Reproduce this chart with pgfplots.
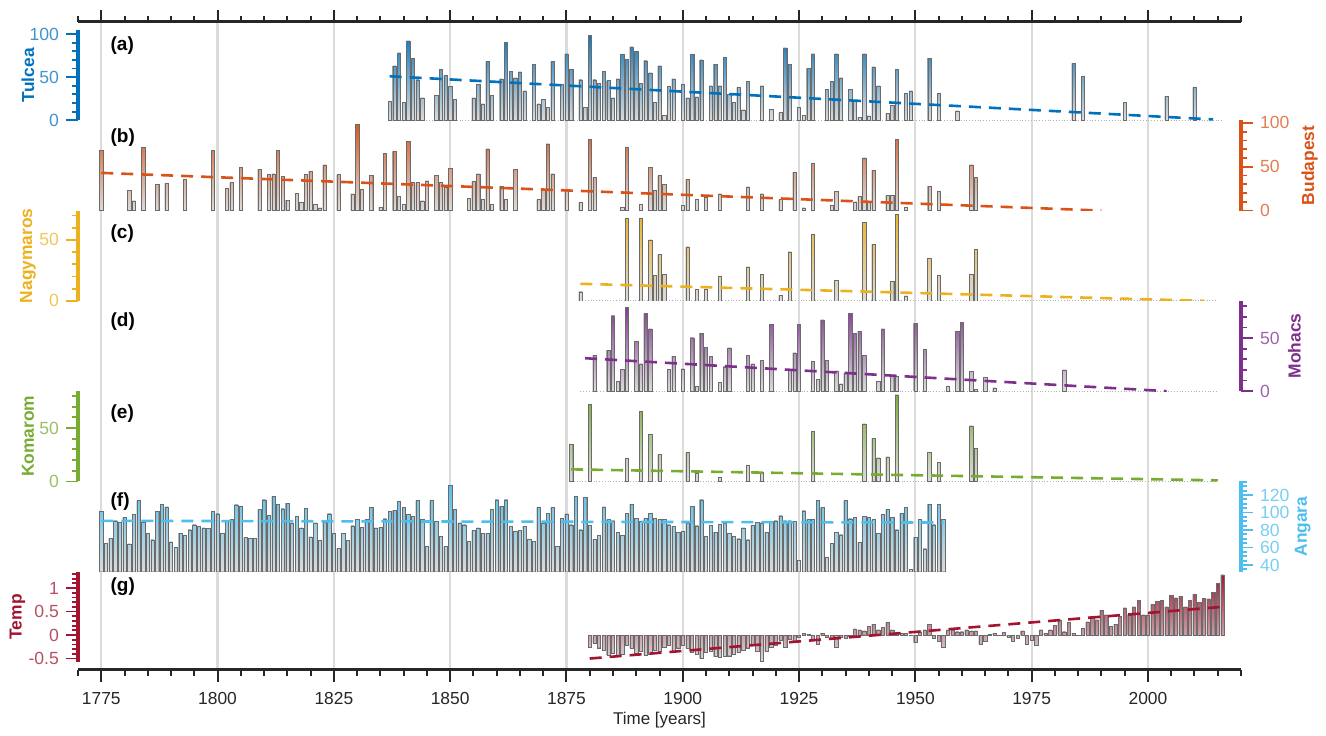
\documentclass[border=0pt]{standalone}
\usepackage{fontspec}
\setmainfont{Liberation Sans}
\usepackage{pgfplots}
\pgfplotsset{compat=1.18}
\usetikzlibrary{shadings}
\definecolor{ctul}{HTML}{0072BD}
\definecolor{cbud}{HTML}{D95319}
\definecolor{cnag}{HTML}{EDB120}
\definecolor{cmoh}{HTML}{7E2F8E}
\definecolor{ckom}{HTML}{77AC30}
\definecolor{cang}{HTML}{4DBEEE}
\definecolor{ctmp}{HTML}{A2142F}
\definecolor{cfr}{HTML}{262626}

\pgfplotstableread{
year val
1837 22
1838 63
1839 78
1840 21
1841 92
1842 72
1843 47
1844 26
1847 29
1848 59
1849 52
1850 39
1851 24
1855 26
1856 42
1857 19
1858 68
1859 29
1861 48
1862 90
1863 57
1864 49
1865 56
1866 34
1868 65
1869 19
1870 24
1871 15
1872 68
1874 42
1875 77
1876 59
1878 47
1879 15
1880 98
1881 47
1882 43
1883 57
1884 46
1885 26
1886 48
1887 76
1888 71
1889 85
1890 80
1891 43
1892 69
1893 55
1894 21
1895 63
1896 6
1897 39
1898 48
1900 42
1901 26
1902 76
1903 27
1904 70
1906 40
1907 65
1908 40
1909 73
1910 30
1911 21
1912 38
1913 12
1914 45
1917 40
1919 13
1921 9
1922 84
1923 65
1925 15
1926 6
1927 60
1928 77
1931 36
1932 45
1933 77
1934 49
1936 36
1937 23
1938 3
1939 77
1940 5
1941 62
1942 40
1944 8
1945 17
1946 59
1948 31
1949 34
1953 72
1955 31
1959 11
1984 66
1986 51
1995 21
2004 28
2010 38
}\tulcea

\pgfplotstableread{
year val
1775 68.5
1781 23
1782 11
1784 72
1787 30
1789 31
1793 36
1799 68.5
1802 25
1803 32
1805 49.6
1809 47
1811 41
1812 42
1813 68.5
1814 39
1815 12
1817 20
1818 9
1819 41
1820 45
1821 7
1822 3
1823 52
1826 41
1829 19
1830 98
1831 24
1833 40
1835 4
1836 65
1838 67.5
1839 16
1840 7
1841 78.7
1842 32
1843 32
1844 11
1845 34
1847 40
1848 32
1849 27
1850 48
1854 14
1855 33
1856 42
1857 12.5
1858 70.5
1859 7
1861 28
1862 12.5
1864 47
1869 12.5
1870 24
1871 76
1872 42
1875 24
1878 9.5
1880 81.5
1881 38
1887 4
1888 72
1891 7
1893 49
1894 23
1895 40
1896 30
1900 5.7
1901 36
1903 12.5
1905 15.5
1908 19
1914 27
1917 19
1921 12.5
1924 44
1926 3
1928 54
1932 6
1933 22
1937 10
1938 16
1939 60
1940 9
1941 46
1944 17
1945 17
1946 81.5
1948 4
1953 28
1955 22
1962 52
1963 38
}\budapest

\pgfplotstableread{
year val
1878 7.5
1888 67.5
1891 67.5
1893 50
1894 20.8
1895 38
1896 22
1901 44.4
1903 9.7
1905 9.7
1908 20
1914 27.8
1917 22
1921 4.7
1923 40.3
1928 54.7
1933 16.7
1939 64.7
1941 46.4
1945 15.8
1946 70.8
1948 4
1953 34.7
1955 20.8
1962 22
1963 42.5
}\nagymaros

\pgfplotstableread{
year val
1881 34
1884 38.6
1885 71
1886 9
1887 20.7
1888 78.7
1890 46.9
1891 25.6
1892 73
1893 58.6
1897 20.7
1898 33
1900 21
1902 50.3
1903 4.6
1904 54.6
1905 41
1906 33
1908 8.3
1909 23
1910 40.7
1914 34
1915 25.6
1917 29.3
1919 62.6
1923 20
1924 36
1925 62.6
1928 27.8
1929 10.8
1930 67
1931 28.7
1933 19.1
1934 6.8
1935 17
1936 73
1937 54.6
1938 56.4
1939 34
1942 9
1943 58.6
1945 13.9
1946 13.9
1950 63.9
1952 39.2
1957 4.6
1959 56.4
1960 64.8
1962 18.5
1963 2
1965 13
1967 3
1982 20
}\mohacs

\pgfplotstableread{
year val
1876 34.6
1880 72
1888 21.4
1891 65.4
1893 44.3
1895 25.2
1901 27
1903 7.5
1908 3.5
1914 15
1917 8.8
1928 47
1939 53.8
1941 40.3
1942 22
1944 22.9
1946 81
1953 27
1955 17.6
1962 52
1963 30.8
}\komarom

\pgfplotstableread{
year val
1775 101.3
1776 65.1
1777 70.8
1778 90.6
1779 88.7
1780 94.4
1781 64.0
1782 97.5
1783 113.5
1784 89.1
1785 76.5
1786 68.9
1787 101.3
1788 109.7
1789 106.3
1790 66.3
1791 60.2
1792 76.5
1793 73.9
1794 80.3
1795 86.0
1796 84.2
1797 82.3
1798 81.5
1799 101.3
1800 98.6
1801 76.5
1802 89.9
1803 91.8
1804 108.9
1805 107.0
1806 71.6
1807 70.8
1808 70.8
1809 103.2
1810 114.6
1811 96.7
1812 118.4
1813 109.7
1814 104.3
1815 110.8
1816 88.0
1817 95.6
1818 82.3
1819 105.1
1820 72.0
1821 88.0
1822 68.2
1823 88.7
1824 98.6
1825 76.5
1826 59.4
1827 76.5
1828 68.2
1829 84.9
1830 91.8
1831 83.0
1832 91.8
1833 105.9
1834 82.3
1835 83.0
1836 92.9
1837 101.3
1838 102.4
1839 112.7
1840 105.9
1841 97.5
1842 95.6
1843 113.5
1844 91.8
1845 61.3
1846 113.5
1847 89.9
1848 72.7
1849 61.3
1850 131.0
1851 103.2
1852 88.0
1853 86.0
1854 67.0
1855 79.2
1856 82.3
1857 76.5
1858 76.5
1859 103.2
1860 114.6
1861 107.0
1862 114.6
1863 84.2
1864 78.5
1865 79.2
1866 84.2
1867 69.7
1868 67.0
1869 105.9
1870 88.0
1871 99.4
1872 105.9
1873 60.9
1874 93.7
1875 98.3
1876 86.0
1877 118.4
1878 80.3
1879 117.7
1880 85.3
1881 69.7
1882 73.9
1883 106.3
1884 91.8
1885 90.6
1886 77.7
1887 73.9
1888 99.4
1889 109.7
1890 93.7
1891 89.9
1892 93.7
1893 99.4
1894 93.7
1895 91.8
1896 92.5
1897 86.0
1898 84.2
1899 77.7
1900 78.4
1901 88.0
1902 107.0
1903 84.9
1904 114.6
1905 72.7
1906 85.3
1907 77.7
1908 86.8
1909 87.2
1910 76.5
1911 72.7
1912 70.0
1913 82.3
1914 68.9
1915 85.3
1916 89.1
1917 88.0
1918 77.7
1919 89.9
1920 90.6
1921 96.3
1922 90.6
1923 90.6
1924 89.9
1925 44.9
1926 102.0
1927 91.8
1928 91.8
1929 113.5
1930 105.9
1931 48.7
1932 65.1
1933 77.7
1934 74.6
1935 113.5
1936 92.9
1937 94.4
1938 65.9
1939 95.6
1940 94.4
1941 91.8
1942 76.5
1943 97.5
1944 103.2
1945 94.4
1946 80.3
1947 99.4
1948 105.9
1949 35.0
1950 71.6
1951 91.8
1952 58.6
1953 109.7
1954 86.0
1955 109.7
1956 91.8
}\angara

\pgfplotstableread{
year val
1880 -0.25
1881 -0.18
1882 -0.27
1883 -0.32
1884 -0.43
1885 -0.39
1886 -0.44
1887 -0.41
1888 -0.21
1889 -0.28
1890 -0.39
1891 -0.35
1892 -0.43
1893 -0.41
1894 -0.32
1895 -0.34
1896 -0.25
1897 -0.21
1898 -0.34
1899 -0.27
1900 -0.21
1901 -0.28
1902 -0.37
1903 -0.41
1904 -0.50
1905 -0.37
1906 -0.35
1907 -0.46
1908 -0.48
1909 -0.46
1910 -0.44
1911 -0.41
1912 -0.37
1913 -0.32
1914 -0.27
1915 -0.20
1916 -0.35
1917 -0.55
1918 -0.35
1919 -0.25
1920 -0.21
1921 -0.11
1922 -0.25
1923 -0.09
1924 -0.13
1925 -0.04
1926 0.04
1927 0.01
1928 -0.09
1929 -0.20
1930 0.04
1931 -0.04
1932 -0.06
1933 -0.25
1934 -0.04
1935 -0.06
1936 -0.02
1937 0.13
1938 0.11
1939 0.09
1940 0.18
1941 0.23
1942 0.11
1943 0.16
1944 0.27
1945 0.11
1946 0.04
1947 0.04
1948 0.04
1949 -0.01
1950 -0.16
1951 0.07
1952 0.11
1953 0.23
1954 -0.06
1955 -0.13
1956 -0.25
1957 0.11
1958 0.11
1959 0.07
1960 0.07
1961 0.11
1962 0.09
1963 0.09
1964 -0.20
1965 -0.13
1966 0.01
1967 0.04
1968 -0.01
1969 0.06
1970 -0.04
1971 -0.14
1972 -0.06
1973 0.09
1974 -0.20
1975 -0.11
1976 -0.21
1977 0.11
1978 0.04
1979 0.11
1980 0.21
1981 0.32
1982 0.07
1983 0.27
1984 0.04
1985 -0.01
1986 0.14
1987 0.28
1988 0.39
1989 0.32
1990 0.53
1991 0.43
1992 0.18
1993 0.23
1994 0.39
1995 0.58
1996 0.43
1997 0.60
1998 0.74
1999 0.43
2000 0.43
2001 0.65
2002 0.72
2003 0.74
2004 0.60
2005 0.84
2006 0.79
2007 0.82
2008 0.60
2009 0.74
2010 0.87
2011 0.70
2012 0.78
2013 0.77
2014 0.91
2015 1.10
2016 1.28
}\temp

\pgfplotsset{
  panel/.style={scale only axis, width=581.5pt, height=45.143pt,
    xmin=1770, xmax=2020, axis x line=none, enlargelimits=false,
    tick align=outside, major tick length=6pt, minor tick length=3pt,
    y axis line style={-, draw=#1, line width=1.6pt},
    ytick style={draw=#1, line width=0.9pt},
    minor y tick style={draw=#1, line width=0.9pt},
    yticklabel style={font=\fontsize{8.8}{10}\selectfont, text=#1!75!white},
    clip=true},
  lpanel/.style 2 args={panel=#1, axis y line*=left,
    every axis y label/.style={at={(axis description cs:#2,0.5)}, rotate=90, anchor=center,
      font=\bfseries\fontsize{8.7}{10}\selectfont, text=#1}},
  rpanel/.style 2 args={panel=#1, axis y line*=right,
    every axis y label/.style={at={(axis description cs:#2,0.5)}, rotate=90, anchor=center,
      font=\bfseries\fontsize{8.7}{10}\selectfont, text=#1}},
  gbar/.style={ybar, bar width=0.7, draw=black!58, line width=0.2pt, fill=none,
    path picture={\fill[path picture={}, draw=none, bottom color=black!14, top color=#1] (rel axis cs:0,0) rectangle (rel axis cs:1,1);}},
  trend/.style={draw=#1, line width=1.3pt, dash pattern=on 6pt off 4pt},
  zline/.style={draw=gray!60, line width=0.4pt, densely dotted},
}
\tikzset{plab/.style={anchor=west, font=\bfseries\fontsize{9.5}{11}\selectfont, text=black}}

\begin{document}
\begin{tikzpicture}
\useasboundingbox (0,0) rectangle (663pt,367.5pt);

% frame axis: top/bottom x axes and grid
\begin{axis}[at={(39pt,32.75pt)}, anchor=south west, scale only axis,
  width=581.5pt, height=323.75pt, xmin=1770, xmax=2020, ymin=0, ymax=1,
  axis x line=box, axis y line=none,
  xtick={1775,1800,1825,1850,1875,1900,1925,1950,1975,2000},
  xticklabels={1775,1800,1825,1850,1875,1900,1925,1950,1975,2000},
  minor xtick={1770,1775,...,2020},
  tick align=outside, major tick length=6pt, minor tick length=3pt,
  xmajorgrids, major grid style={draw=black!14, line width=1.1pt},
  x axis line style={-, draw=cfr, line width=1.5pt},
  xtick style={draw=cfr, line width=1pt},
  minor x tick style={draw=cfr, line width=1pt},
  xticklabel style={font=\fontsize{8.7}{10}\selectfont, text=cfr, yshift=-2pt},
  xlabel={Time [years]},
  xlabel style={font=\fontsize{8.5}{10}\selectfont, text=cfr, yshift=3pt},
]
\end{axis}

% (a) Tulcea
\begin{axis}[lpanel={ctul}{-0.043}, at={(39pt,307.357pt)}, anchor=south west,
  ymin=0, ymax=104.6, ytick={0,50,100}, yticklabels={0,50,100},
  minor ytick={10,20,30,40,60,70,80,90}, ylabel={Tulcea}]
\addplot[zline] coordinates {(1837,0) (2016,0)};
\addplot[gbar=ctul] table[x=year,y=val] {\tulcea};
\addplot[trend=ctul] coordinates {(1837,51) (2014,1)};
\node[plab] at (rel axis cs:0.022,0.83) {(a)};
\end{axis}

% (b) Budapest
\begin{axis}[rpanel={cbud}{1.059}, at={(39pt,262.214pt)}, anchor=south west,
  ymin=0, ymax=103, ytick={0,50,100}, yticklabels={0,50,100},
  minor ytick={10,20,30,40,60,70,80,90}, ylabel={Budapest}]
\addplot[gbar=cbud] table[x=year,y=val] {\budapest};
\addplot[trend=cbud] coordinates {(1775,43) (1990,0)};
\node[plab] at (rel axis cs:0.022,0.81) {(b)};
\end{axis}

% (c) Nagymaros
\begin{axis}[lpanel={cnag}{-0.043}, at={(39pt,217.071pt)}, anchor=south west,
  ymin=0, ymax=74.1, ytick={0,50}, yticklabels={0,50},
  minor ytick={10,20,30,40,60,70}, ylabel={Nagymaros}]
\addplot[zline] coordinates {(1879,0) (2015,0)};
\addplot[gbar=cnag] table[x=year,y=val] {\nagymaros};
\addplot[trend=cnag] coordinates {(1878,14) (2012,0)};
\node[plab] at (rel axis cs:0.022,0.75) {(c)};
\end{axis}

% (d) Mohacs
\begin{axis}[rpanel={cmoh}{1.046}, at={(39pt,171.929pt)}, anchor=south west,
  ymin=0, ymax=85, ytick={0,50}, yticklabels={0,50},
  minor ytick={10,20,30,40,60,70,80}, ylabel={Mohacs}]
\addplot[zline] coordinates {(1878,0) (2015,0)};
\addplot[gbar=cmoh] table[x=year,y=val] {\mohacs};
\addplot[trend=cmoh] coordinates {(1879,31) (2004,0)};
\node[plab] at (rel axis cs:0.022,0.77) {(d)};
\end{axis}

% (e) Komarom
\begin{axis}[lpanel={ckom}{-0.043}, at={(39pt,126.786pt)}, anchor=south west,
  ymin=0, ymax=84.5, ytick={0,50}, yticklabels={0,50},
  minor ytick={10,20,30,40,60,70,80}, ylabel={Komarom}]
\addplot[zline] coordinates {(1876,0) (2015,0)};
\addplot[gbar=ckom] table[x=year,y=val] {\komarom};
\addplot[trend=ckom] coordinates {(1876,11.3) (2015,1)};
\node[plab] at (rel axis cs:0.022,0.75) {(e)};
\end{axis}

% (f) Angara
\begin{axis}[rpanel={cang}{1.053}, at={(39pt,81.643pt)}, anchor=south west,
  ymin=32.3, ymax=135.5, ytick={40,60,80,100,120}, yticklabels={40,60,80,100,120},
  minor ytick={35,40,...,135}, ylabel={Angara}]
\addplot[gbar=cang] table[x=year,y=val] {\angara};
\addplot[trend=cang] coordinates {(1775,90.5) (1956,88.5)};
\node[plab] at (rel axis cs:0.022,0.78) {(f)};
\end{axis}

% (g) Temp
\begin{axis}[lpanel={ctmp}{-0.052}, at={(39pt,36.5pt)}, anchor=south west,
  ymin=-0.574, ymax=1.347, ytick={-0.5,0,0.5,1}, yticklabels={-0.5,0,0.5,1},
  minor ytick={-0.5,-0.4,-0.3,-0.2,-0.1,0,0.1,0.2,0.3,0.4,0.5,0.6,0.7,0.8,0.9,1,1.1,1.2,1.3},
  ylabel={Temp}]
\addplot[gbar=ctmp] table[x=year,y=val] {\temp};
\addplot[trend=ctmp] coordinates {(1880,-0.5) (2016,0.6)};
\node[plab] at (rel axis cs:0.022,0.83) {(g)};
\end{axis}
\end{tikzpicture}
\end{document}
